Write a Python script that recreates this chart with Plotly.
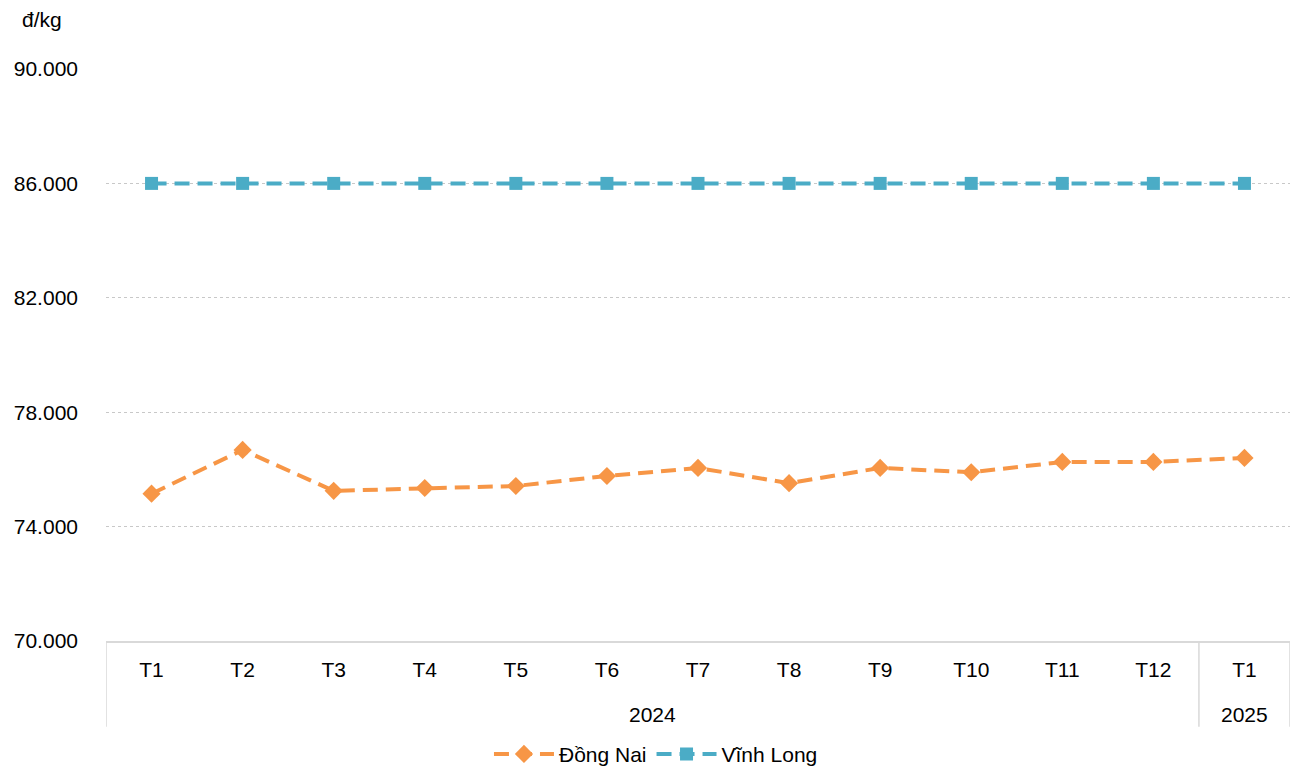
import plotly.graph_objects as go

months = ["T1", "T2", "T3", "T4", "T5", "T6", "T7", "T8", "T9", "T10", "T11", "T12", "T1"]
years = ["2024"] * 12 + ["2025"]
dong_nai = [75150, 76680, 75250, 75350, 75420, 75770, 76050, 75520, 76050, 75900, 76260, 76260, 76400]
vinh_long = [86000] * 13
y_ticks = [70000, 74000, 78000, 82000, 86000, 90000]

ORANGE = "#F79646"
BLUE = "#4BACC6"
FONT = "Liberation Sans, Arial, sans-serif"

x = list(range(len(months)))

fig = go.Figure()
fig.add_trace(go.Scatter(
    x=x, y=dong_nai, name="Đồng Nai", mode="lines+markers",
    line=dict(color=ORANGE, width=4, dash="15px,8px"),
    marker=dict(symbol="diamond", size=14, color=ORANGE),
))
fig.add_trace(go.Scatter(
    x=x, y=vinh_long, name="Vĩnh Long", mode="lines+markers",
    line=dict(color=BLUE, width=4, dash="15px,8px"),
    marker=dict(symbol="square", size=13, color=BLUE),
))

# group labels (years)
groups = []
for i, yv in enumerate(years):
    if not groups or groups[-1][0] != yv:
        groups.append([yv, i, i])
    else:
        groups[-1][2] = i

shapes = []
for g, s, e in groups:
    fig.add_annotation(x=(s + e) / 2, y=-0.128, xref="x", yref="paper",
                       text=g, showarrow=False, font=dict(size=21, color="#000", family=FONT),
                       yanchor="middle")
    shapes.append(dict(type="line", xref="x", yref="paper", x0=s - 0.5, x1=s - 0.5,
                       y0=0, y1=-0.150, line=dict(color="#D9D9D9", width=1.5)))
shapes.append(dict(type="line", xref="x", yref="paper", x0=len(months) - 0.5, x1=len(months) - 0.5,
                   y0=0, y1=-0.150, line=dict(color="#D9D9D9", width=1.5)))

fig.add_annotation(x=-0.0726, y=1.0857, xref="paper", yref="paper", text="đ/kg", showarrow=False,
                   font=dict(size=21, color="#000", family=FONT), xanchor="left", yanchor="middle")

fig.update_layout(
    width=1291, height=761,
    margin=dict(l=98, r=9, t=61, b=128, autoexpand=False),
    paper_bgcolor="white", plot_bgcolor="white",
    separators=",.",
    font=dict(family=FONT, size=21, color="#000"),
    showlegend=True,
    legend=dict(orientation="h", x=0.4645, xanchor="center", y=-0.198, yanchor="middle",
                font=dict(size=21, family=FONT), tracegroupgap=0, itemwidth=60),
    shapes=shapes,
    xaxis=dict(
        range=[-0.5, len(months) - 0.5], tickvals=x, ticktext=months,
        showgrid=False, zeroline=False, showline=True, linecolor="#D9D9D9", linewidth=1.5,
        ticks="", tickfont=dict(size=21, family=FONT, color="#000"), ticklabelstandoff=9,
        automargin=False,
    ),
    yaxis=dict(
        range=[70000, 90000], tickvals=y_ticks, tickformat=",.0f",
        showgrid=True, gridcolor="#C8C8C8", griddash="dot", gridwidth=1,
        zeroline=False, showline=False, ticks="",
        tickfont=dict(size=21, family=FONT, color="#000"), ticklabelstandoff=27,
        automargin=False,
    ),
)

fig.write_html("out.html")
